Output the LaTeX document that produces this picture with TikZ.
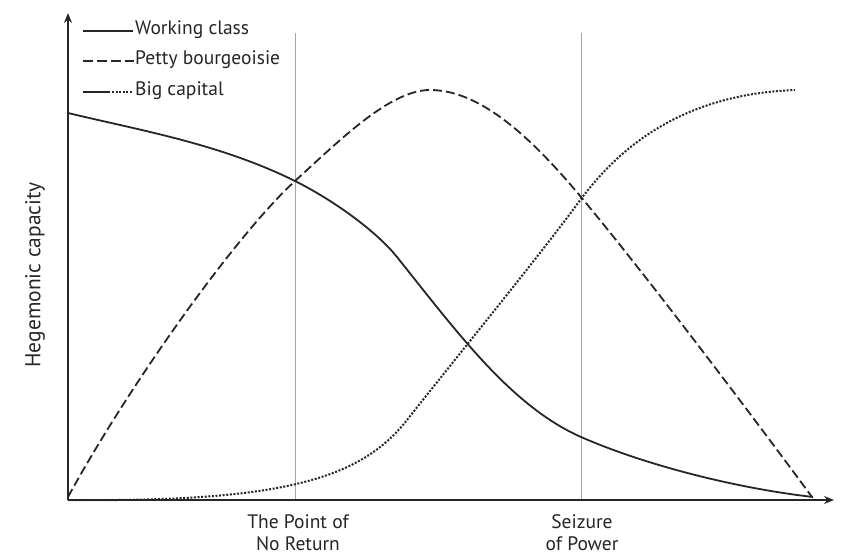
\documentclass[tikz,border=0pt]{standalone}
\usepackage{fontspec}
\setmainfont{PT Sans}
\usetikzlibrary{arrows.meta}
\begin{document}
\begin{tikzpicture}[x=1pt,y=-1pt,
  curve/.style={line width=1.8pt,black!85},
  wc/.style={curve},
  pb/.style={curve,dash pattern=on 9pt off 4pt},
  bc/.style={curve,line width=2pt,dash pattern=on 2pt off 1.6pt},
  guide/.style={line width=0.7pt,black!35},
  axis/.style={line width=1.6pt,black!85,-{Stealth[length=10pt,width=8pt]}},
  lbl/.style={font=\fontsize{19.5}{22}\selectfont,text=black!85,inner sep=0pt},
]
\useasboundingbox (0,0) rectangle (844,556);
\fill[white] (0,0) rectangle (844,556);
% guides
\draw[guide] (295,33) -- (295,500);
\draw[guide] (581,33) -- (581,500);
% axes
\coordinate (O) at (68,500);
\coordinate (ytop) at (68,13);
\coordinate (xend) at (834,500);
\draw[axis] (O) -- (ytop);
\draw[axis] (O) -- (xend);
% curves
\draw[wc] (68,113) .. controls (143,131) and (220,144) .. (295,181)
  .. controls (335,201) and (377,232) .. (397,257)
  .. controls (457,332) and (511,406) .. (581,437)
  .. controls (645,465) and (735,488) .. (813,497);
\draw[pb] (68,497) .. controls (128,387) and (235,236) .. (295,181)
  .. controls (340,140) and (390,90) .. (430,90)
  .. controls (480,90) and (531,137) .. (581,197)
  .. controls (651,281) and (762,429) .. (812,497);
\draw[bc] (68,500) .. controls (280,502) and (360,480) .. (407,420)
  .. controls (447,369) and (541,254) .. (581,199)
  .. controls (625,140) and (690,94) .. (795,90);
% legend
\draw[wc] (83,31) -- (133,31);
\node[lbl,anchor=west] (l1) at (135,30) {Working class};
\draw[curve,dash pattern=on 10pt off 4pt] (83,61) -- (134,61);
\node[lbl,anchor=west] (l2) at (135,60) {Petty bourgeoisie};
\draw[wc] (83,92) -- (110,92);
\draw[bc] (112,92) -- (133,92);
\node[lbl,anchor=west] (l3) at (135,91) {Big capital};
% axis labels
\node[lbl,rotate=90,font=\fontsize{21.5}{24}\selectfont] (ylab) at (35,275) {Hegemonic capacity};
\node[lbl,align=center] (x1) at (298,533) {The Point of\\No Return};
\node[lbl,align=center] (x2) at (582,533) {Seizure\\of Power};
\end{tikzpicture}
\end{document}
